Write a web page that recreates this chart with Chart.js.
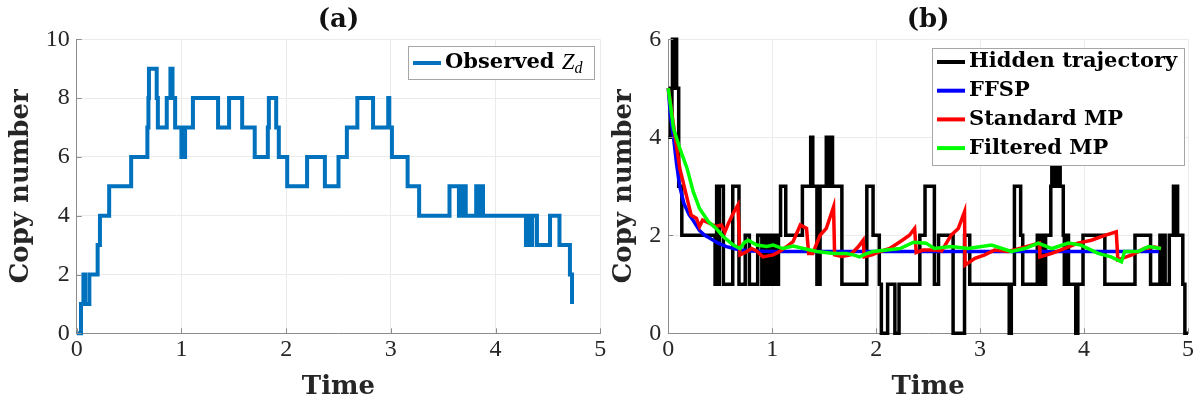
<!DOCTYPE html>
<html>
<head>
<meta charset="utf-8">
<script src="https://cdn.jsdelivr.net/npm/chart.js@4.4.0/dist/chart.umd.min.js"></script>
<style>
  body { margin: 0; background: #fff; }
  #wrap { position: relative; width: 1202px; height: 405px; overflow: hidden; }
  canvas { position: absolute; top: 0; }
  #chartA { left: 0; }
  #chartB { left: 600px; }
</style>
</head>
<body>
<div id="wrap">
  <canvas id="chartA" width="640" height="405"></canvas>
  <canvas id="chartB" width="602" height="405"></canvas>
</div>
<script>
// panel (a): observed trajectory, step times and copy numbers
const obsT = [0, 0.041, 0.064, 0.08, 0.121, 0.2, 0.222, 0.31, 0.52, 0.675, 0.685, 0.69, 0.764, 0.775, 0.86, 0.895, 0.915, 0.94,
  1.0, 1.01, 1.02, 1.035, 1.11, 1.35, 1.455, 1.58, 1.70, 1.825, 1.835, 1.905, 1.93, 2.01, 2.2, 2.37, 2.5, 2.58, 2.68, 2.83,
  2.975, 2.985, 3.01, 3.16, 3.27, 3.56, 3.65, 3.66, 3.67, 3.68, 3.69, 3.70, 3.715, 3.73, 3.815, 3.83, 3.84, 3.86, 3.87, 3.88,
  4.29, 4.30, 4.31, 4.32, 4.33, 4.35, 4.395, 4.52, 4.61, 4.71, 4.73];
const obsZ = [0, 1, 2, 1, 2, 3, 4, 5, 6, 7, 8, 9, 8, 7, 8, 9, 8, 7,
  6, 7, 6, 7, 8, 7, 8, 7, 6, 7, 8, 7, 6, 5, 6, 5, 6, 7, 8, 7,
  8, 7, 6, 5, 4, 5, 4, 5, 4, 5, 4, 5, 4, 4, 5, 4, 5, 4, 5, 4,
  3, 4, 3, 4, 3, 4, 3, 4, 3, 2, 1];

// panel (b): hidden trajectory
const hidT = [0, 0.02, 0.03, 0.035, 0.04, 0.05, 0.055, 0.065, 0.07, 0.08, 0.1, 0.13, 0.45, 0.465, 0.47, 0.49, 0.53, 0.62, 0.68,
  0.74, 0.78, 0.86, 0.9, 0.92, 0.94, 0.96, 0.98, 1.0, 1.02, 1.04, 1.055, 1.06, 1.08, 1.13, 1.29, 1.37, 1.39, 1.43, 1.46,
  1.52, 1.54, 1.55, 1.58, 1.67, 1.91, 1.97, 2.03, 2.05, 2.11, 2.18, 2.22, 2.42, 2.47, 2.56, 2.6, 2.74, 2.85, 2.9, 3.28, 3.3,
  3.33, 3.39, 3.41, 3.55, 3.57, 3.59, 3.61, 3.63, 3.68, 3.69, 3.71, 3.72, 3.74, 3.75, 3.77, 3.8, 3.81, 3.83, 3.85, 3.92,
  3.94, 3.99, 4.2, 4.49, 4.64, 4.73, 4.75, 4.77, 4.78, 4.82, 4.86, 4.87, 4.88, 4.9, 4.95, 4.97, 5.0];
const hidX = [4, 5, 4, 5, 6, 5, 6, 5, 6, 5, 3, 2, 1, 3, 1, 3, 1, 3, 1,
  2, 1, 2, 1, 2, 1, 2, 1, 2, 1, 2, 1, 2, 3, 2, 3, 4, 3, 1, 3,
  4, 3, 4, 3, 1, 3, 2, 1, 0, 1, 0, 1, 2, 3, 1, 2, 0, 2, 1, 0, 1,
  3, 2, 1, 2, 1, 2, 1, 2, 3, 4, 3, 4, 3, 4, 3, 2, 1, 2, 1, 0,
  1, 2, 1, 2, 1, 2, 1, 2, 1, 2, 3, 2, 3, 2, 1, 0, 0];

// FFSP mean
const ffspT = [0, 0.02, 0.05, 0.08, 0.11, 0.15, 0.2, 0.24, 0.3, 0.35, 0.4, 0.48, 0.56, 0.63, 0.7, 0.8, 0.9, 1.0, 1.5, 2, 2.5, 3, 3.5, 4, 4.5, 4.72];
const ffspM = [5, 4.45, 4.0, 3.45, 3.0, 2.65, 2.42, 2.3, 2.1, 2.0, 1.94, 1.84, 1.77, 1.73, 1.70, 1.68, 1.675, 1.67, 1.67, 1.67, 1.67, 1.67, 1.67, 1.67, 1.67, 1.67];

// standard MP mean
const stdT = [0, 0.05, 0.11, 0.18, 0.22, 0.27, 0.3, 0.33, 0.4, 0.46, 0.51, 0.545, 0.58, 0.625, 0.67, 0.69, 0.74, 0.8, 0.85, 0.91,
  0.96, 1.01, 1.07, 1.14, 1.2, 1.27, 1.33, 1.35, 1.39, 1.46, 1.52, 1.59, 1.6, 1.67, 1.75, 1.83, 1.875, 1.885, 1.96, 2.04,
  2.13, 2.23, 2.32, 2.37, 2.385, 2.45, 2.5, 2.56, 2.63, 2.72, 2.79, 2.85, 2.855, 2.95, 3.045, 3.14, 3.27, 3.4, 3.57, 3.575,
  3.69, 3.81, 3.94, 4.07, 4.2, 4.31, 4.325, 4.46, 4.58, 4.68, 4.74];
const stdM = [5, 4.25, 3.37, 2.76, 2.41, 2.35, 2.18, 2.31, 2.24, 2.18, 2.21, 2.07, 2.25, 2.45, 2.62, 1.6, 1.65, 1.73, 1.68, 1.56,
  1.58, 1.6, 1.67, 1.77, 1.87, 2.21, 2.14, 1.63, 1.63, 2.0, 2.14, 2.58, 1.6, 1.57, 1.6, 1.77, 1.9, 1.56, 1.6, 1.67,
  1.73, 1.87, 2.0, 2.14, 1.65, 1.7, 1.7, 1.7, 1.68, 2.0, 2.14, 2.48, 1.39, 1.53, 1.6, 1.7, 1.67, 1.74, 1.84, 1.56,
  1.63, 1.73, 1.84, 1.9, 2.0, 2.07, 1.5, 1.6, 1.73, 1.76, 1.73];

// filtered MP mean
const filtT = [0, 0.05, 0.11, 0.18, 0.24, 0.3, 0.385, 0.46, 0.53, 0.625, 0.69, 0.73, 0.77, 0.85, 0.945, 1.01, 1.1, 1.2, 1.3, 1.43,
  1.59, 1.71, 1.78, 1.84, 1.9, 1.97, 2.1, 2.23, 2.36, 2.48, 2.56, 2.72, 2.885, 3.11, 3.3, 3.43, 3.56, 3.69, 3.85, 3.97,
  4.135, 4.26, 4.36, 4.39, 4.52, 4.62, 4.74];
const filtM = [5, 4.18, 3.78, 3.37, 2.89, 2.55, 2.28, 2.14, 1.97, 1.8, 1.73, 1.85, 1.9, 1.8, 1.77, 1.8, 1.73, 1.78, 1.73, 1.67,
  1.63, 1.63, 1.6, 1.56, 1.62, 1.67, 1.7, 1.73, 1.86, 1.84, 1.73, 1.77, 1.73, 1.8, 1.67, 1.73, 1.84, 1.73, 1.84, 1.8,
  1.63, 1.56, 1.46, 1.67, 1.67, 1.77, 1.73];

const tickFamily = "'Liberation Serif', serif";
const boldFamily = "'DejaVu Serif', serif";
const textColor = '#262626';
const axisColor = '#8c8c8c';

const pts = (xs, ys) => xs.map((x, i) => ({ x: x, y: ys[i] }));

const makeScales = (yMax, yWidth, yTitlePad) => ({
  x: {
    type: 'linear', min: 0, max: 5,
    ticks: { stepSize: 1, color: textColor, font: { family: tickFamily, size: 24 }, padding: 2, maxRotation: 0 },
    grid: { color: '#ebebeb', drawTicks: false },
    border: { color: axisColor },
    title: { display: true, text: 'Time', color: textColor,
      font: { family: boldFamily, size: 26, weight: 'bold', lineHeight: 1 }, padding: { top: 0, bottom: 5 } },
    afterFit: s => { s.height = 71.7; }
  },
  y: {
    min: 0, max: yMax,
    ticks: { stepSize: 2, color: textColor, font: { family: tickFamily, size: 24 }, padding: 7 },
    grid: { color: '#ebebeb', drawTicks: false },
    border: { color: axisColor },
    title: { display: true, text: 'Copy number', color: textColor,
      font: { family: boldFamily, size: 26, weight: 'bold', lineHeight: 1 }, padding: { top: yTitlePad, bottom: 0 } },
    afterFit: s => { s.width = yWidth; }
  }
});

// MATLAB style inward tick marks
const innerTicks = {
  id: 'innerTicks',
  afterDraw(chart) {
    const { ctx, chartArea: a, scales } = chart;
    ctx.save();
    ctx.strokeStyle = axisColor;
    ctx.lineWidth = 1;
    ctx.beginPath();
    scales.x.ticks.forEach(t => {
      const px = Math.round(scales.x.getPixelForValue(t.value)) + 0.5;
      ctx.moveTo(px, a.bottom); ctx.lineTo(px, a.bottom - 5);
    });
    scales.y.ticks.forEach(t => {
      const py = Math.round(scales.y.getPixelForValue(t.value)) + 0.5;
      ctx.moveTo(a.left, py); ctx.lineTo(a.left + 5, py);
    });
    ctx.stroke();
    ctx.restore();
  }
};

// boxed legend drawn above the data, like the original figure
const boxLegend = (box, items) => ({
  id: 'boxLegend',
  afterDraw(chart) {
    const ctx = chart.ctx;
    ctx.save();
    ctx.fillStyle = '#fff';
    ctx.fillRect(box.x, box.y, box.w, box.h);
    ctx.strokeStyle = '#a6a6a6';
    ctx.lineWidth = 1;
    ctx.strokeRect(box.x + 0.5, box.y + 0.5, box.w, box.h);
    items.forEach((it, i) => {
      const ry = box.row0 + i * box.step;
      ctx.strokeStyle = it.color;
      ctx.lineWidth = 4;
      ctx.beginPath();
      ctx.moveTo(box.x + 5, ry); ctx.lineTo(box.x + 33, ry);
      ctx.stroke();
      ctx.fillStyle = '#000';
      ctx.textBaseline = 'middle';
      ctx.font = 'bold 21px ' + boldFamily;
      const tx = box.x + 37;
      ctx.fillText(it.label, tx, ry);
      if (it.math) {
        const w = ctx.measureText(it.label).width;
        ctx.font = 'italic 23px ' + tickFamily;
        ctx.fillText(it.math, tx + w, ry);
        const wz = ctx.measureText(it.math).width;
        ctx.font = 'italic 16px ' + tickFamily;
        ctx.fillText(it.sub, tx + w + wz, ry + 6);
      }
    });
    ctx.restore();
  }
});

const titleOpts = text => ({
  display: true, text: text, color: '#111', fullSize: false,
  font: { family: boldFamily, size: 26, weight: 'bold', lineHeight: 1 },
  padding: { top: 7, bottom: 6.3 }
});

new Chart(document.getElementById('chartA'), {
  type: 'line',
  data: {
    datasets: [{
      label: 'Observed Zd',
      data: pts(obsT, obsZ),
      stepped: 'before',
      borderColor: '#0072bd',
      borderWidth: 4,
      pointRadius: 0,
      fill: false,
      clip: false
    }]
  },
  options: {
    responsive: false,
    animation: false,
    layout: { padding: { left: 0, right: 39.7, top: 0, bottom: 0 } },
    scales: makeScales(10, 76.7, 8.5),
    plugins: {
      legend: { display: false },
      tooltip: { enabled: false },
      title: titleOpts('(a)')
    }
  },
  plugins: [innerTicks, boxLegend({ x: 408, y: 46, w: 186, h: 33, row0: 63, step: 0 },
    [{ label: 'Observed ', color: '#0072bd', math: 'Z', sub: 'd' }])]
});

new Chart(document.getElementById('chartB'), {
  type: 'line',
  data: {
    datasets: [{
      label: 'Hidden trajectory',
      data: pts(hidT, hidX),
      stepped: 'before',
      borderColor: '#000',
      borderWidth: 3.5,
      order: 4
    }, {
      label: 'FFSP',
      data: pts(ffspT, ffspM),
      borderColor: '#0000ff',
      borderWidth: 3.5,
      order: 3
    }, {
      label: 'Standard MP',
      data: pts(stdT, stdM),
      borderColor: '#ff0000',
      borderWidth: 3.5,
      order: 2
    }, {
      label: 'Filtered MP',
      data: pts(filtT, filtM),
      borderColor: '#00ff00',
      borderWidth: 3.5,
      order: 1
    }].map(d => Object.assign(d, { pointRadius: 0, fill: false, clip: false }))
  },
  options: {
    responsive: false,
    animation: false,
    layout: { padding: { left: 0, right: 14, top: 0, bottom: 0 } },
    scales: makeScales(6, 68.3, 11.5),
    plugins: {
      legend: { display: false },
      tooltip: { enabled: false },
      title: titleOpts('(b)')
    }
  },
  plugins: [innerTicks, boxLegend({ x: 332, y: 48, w: 252, h: 117, row0: 62, step: 28.7 }, [
    { label: 'Hidden trajectory', color: '#000' },
    { label: 'FFSP', color: '#0000ff' },
    { label: 'Standard MP', color: '#ff0000' },
    { label: 'Filtered MP', color: '#00ff00' }
  ])]
});
</script>
</body>
</html>
